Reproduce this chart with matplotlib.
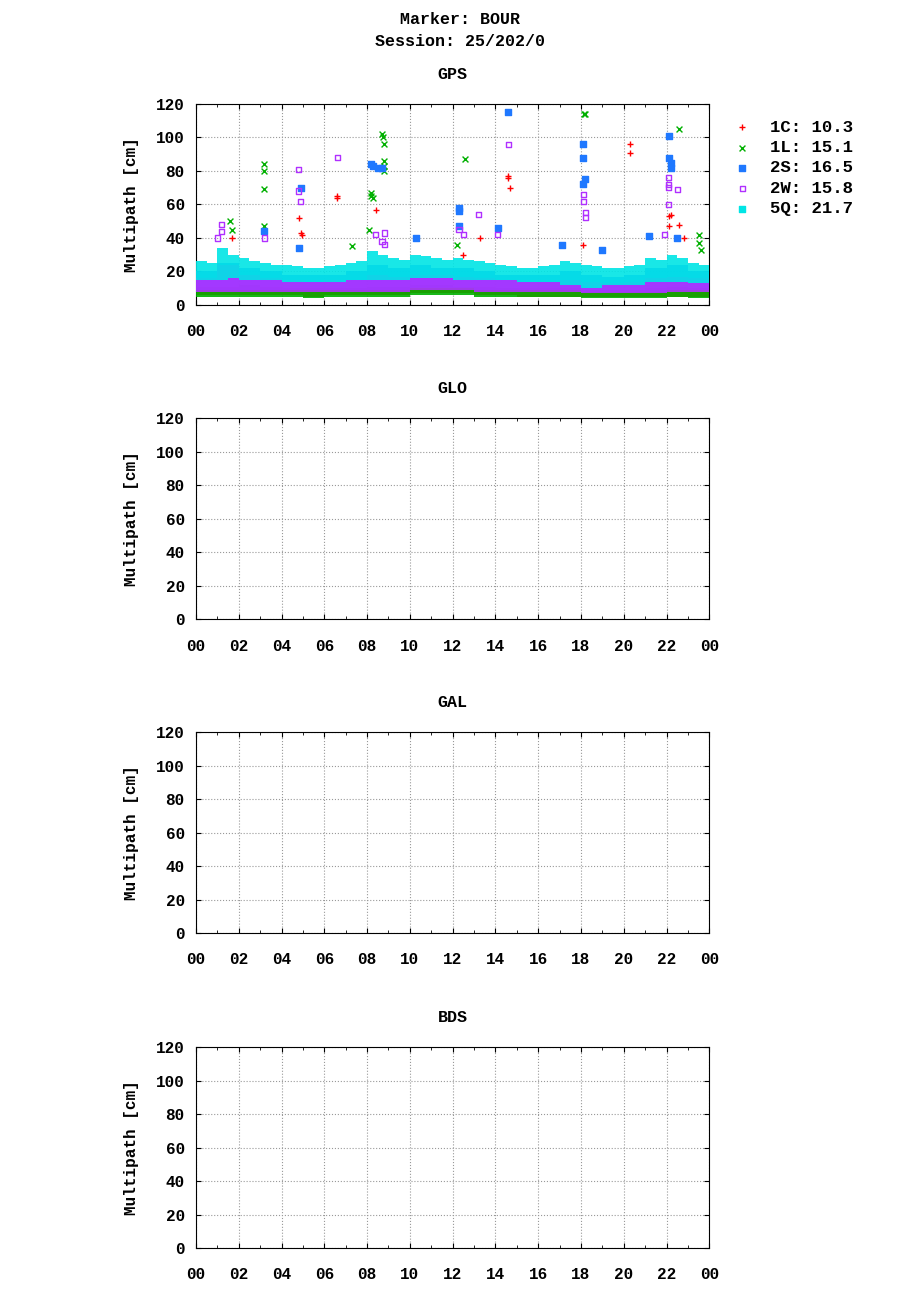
import matplotlib
matplotlib.use("Agg")
import matplotlib.pyplot as plt
import numpy as np

FONT = "Liberation Mono"
plt.rcParams["font.family"] = FONT
plt.rcParams["font.weight"] = "bold"
plt.rcParams["font.size"] = 11

series = ["1C", "1L", "2S", "2W", "5Q"]
means = [10.3, 15.1, 16.5, 15.8, 21.7]
colors = ["#ff0000", "#00b000", "#1f78ff", "#b030ff", "#00e5e5"]

hours = list(range(24))
band_1C_lo = [6,6,6,6,6,5,6,6,6,6,7,7,7,6,6,5,5,5,5,5,5,5,5,5]
band_1C_hi = [11,11,12,11,10,10,10,10,11,11,12,12,11,11,10,10,10,10,9,9,9,10,11,10]
band_1L_lo = [5,5,5,5,5,4,5,5,5,5,6,6,6,5,5,5,5,5,4,4,4,4,5,4]
band_1L_hi = [10,10,12,10,9,9,9,10,11,11,12,12,11,10,10,9,9,9,8,8,8,9,10,9]
band_2S_lo = [9,9,9,9,9,9,9,9,9,9,10,10,10,9,9,9,9,9,8,8,8,8,9,9]
band_2S_hi = [20,25,22,20,18,18,18,20,24,22,24,22,22,20,18,18,18,20,18,17,18,22,24,20]
band_2W_lo = [8,8,8,8,8,8,8,8,8,8,9,9,9,8,8,8,8,8,7,7,7,7,8,8]
band_2W_hi = [16,24,18,16,15,14,15,15,18,17,18,18,17,16,15,14,14,15,14,13,14,16,17,16]
half_hours = [h / 2 for h in range(48)]
band_5Q_lo = [15,15,15,16,15,15,15,15,14,14,14,14,14,14,15,15,15,15,15,15,16,16,16,16,
              15,15,15,15,15,15,14,14,14,14,12,12,10,10,12,12,12,12,14,14,14,14,13,13]
band_5Q_hi = [26,25,34,30,28,26,25,24,24,23,22,22,23,24,25,26,32,30,28,27,30,29,28,27,
              28,27,26,25,24,23,22,22,23,24,26,25,24,23,22,22,23,24,28,27,30,28,25,24]

out_1C_t = [1.7,4.8,4.9,4.95,6.6,6.6,8.4,12.5,13.3,14.6,14.6,14.7,18.1,20.3,20.3,22.1,22.1,22.2,22.6,22.8]
out_1C_v = [40,52,43,42,65,64,57,30,40,77,76,70,36,96,91,53,47,54,48,40]
out_1L_t = [1.6,1.7,3.2,3.2,3.2,3.2,8.2,8.2,8.3,8.7,8.75,8.8,8.8,8.8,8.8,12.2,12.6,18.2,18.15,22.6,23.5,23.5,23.6,8.1,7.3]
out_1L_v = [50,45,84,80,69,47,67,65,64,102,100,96,86,83,80,36,87,114,114,105,42,37,33,45,35]
out_2S_t = [3.2,4.8,4.9,8.2,8.3,8.5,8.7,12.3,12.3,14.1,14.6,17.1,18.1,18.1,18.2,18.1,19.0,21.2,22.1,22.1,22.2,22.2,22.5,10.3,12.3]
out_2S_v = [44,34,70,84,83,82,82,58,56,46,115,36,96,88,75,72,33,41,101,88,85,82,40,40,47]
out_2W_t = [1.0,1.2,1.2,3.2,4.8,4.8,4.9,6.6,8.4,8.8,8.8,8.7,12.3,12.5,13.2,14.1,14.6,18.1,18.1,18.2,18.2,22.1,22.1,22.1,22.1,22.5,21.9]
out_2W_v = [40,48,44,40,81,68,62,88,42,43,36,38,45,42,54,42,96,66,62,55,52,76,72,70,60,69,42]

fig = plt.figure(figsize=(9.2, 13), dpi=100)
fig.text(0.5, 1 - 20/1300, "Marker: BOUR", ha="center", va="center", fontsize=12, fontweight="bold")
fig.text(0.5, 1 - 41/1300, "Session: 25/202/0", ha="center", va="center", fontsize=12, fontweight="bold")

bottoms = [0.7654, 0.5238, 0.2823, 0.04]
titles = ["GPS", "GLO", "GAL", "BDS"]
for i, (b, t) in enumerate(zip(bottoms, titles)):
    ax = fig.add_axes([0.213, b, 0.558, 0.1546])
    ax.set_xlim(0, 24)
    ax.set_ylim(0, 120)
    ax.set_xticks(range(0, 25, 2))
    ax.set_xticklabels(["%02d" % (h % 24) for h in range(0, 25, 2)])
    ax.set_xticks(range(0, 25), minor=True)
    ax.set_yticks(range(0, 121, 20))
    ax.tick_params(direction="in", top=True, right=True, which="both", labelsize=11.5)
    ax.tick_params(axis="x", pad=14)
    ax.tick_params(axis="y", pad=8)
    ax.grid(True, which="major", linestyle=":", color="#999999", linewidth=0.8)
    ax.set_ylabel("Multipath [cm]", fontsize=11.5, fontweight="bold", labelpad=12)
    ax.set_title(t, fontsize=12, fontweight="bold", pad=18)
    for lab in ax.get_xticklabels() + ax.get_yticklabels():
        lab.set_fontweight("bold")
    if t == "GPS":
        bands = [(hours, band_1C_lo, band_1C_hi, 1.0), (hours, band_1L_lo, band_1L_hi, 1.0),
                 (hours, band_2S_lo, band_2S_hi, 1.0), (hours, band_2W_lo, band_2W_hi, 1.0),
                 (half_hours, band_5Q_lo, band_5Q_hi, 0.5)]
        outs = [(out_1C_t, out_1C_v), (out_1L_t, out_1L_v), (out_2S_t, out_2S_v), (out_2W_t, out_2W_v), ([], [])]
        mk = ["+", "x", "s", "s", "s"]
        handles = []
        for k in range(5):
            x, lo, hi, w = bands[k]
            ax.bar(x, np.array(hi) - np.array(lo), bottom=lo, width=w, align="edge",
                   color=colors[k], alpha=0.9, zorder=2 + k)
            if series[k] == "2W":
                kw = dict(marker="s", facecolors="none", edgecolors=colors[k], s=14, linewidths=1)
            elif mk[k] == "s":
                kw = dict(marker="s", color=colors[k], s=14)
            else:
                kw = dict(marker=mk[k], color=colors[k], s=18, linewidths=1)
            ax.scatter(outs[k][0], outs[k][1], zorder=3 + k, **kw)
            h = ax.scatter([], [], label="%s: %.1f" % (series[k], means[k]), **kw)
            handles.append(h)
        ax.legend(handles=handles, loc="upper left", bbox_to_anchor=(1.0, 1.0),
                  frameon=False, handletextpad=0.6, labelspacing=0.3,
                  prop={"family": FONT, "weight": "bold", "size": 12.5})

fig.savefig("out.png", dpi=100)
